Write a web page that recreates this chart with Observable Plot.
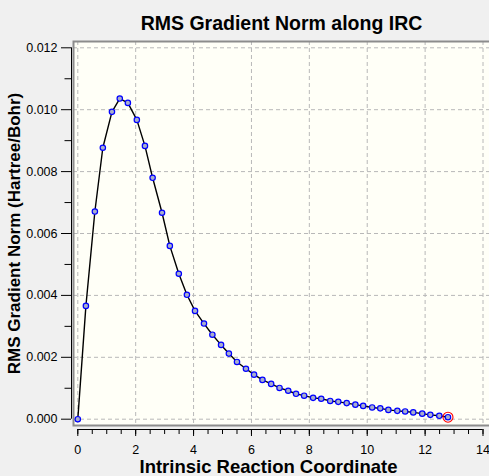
<!DOCTYPE html>
<html>
<head>
<meta charset="utf-8">
<script src="https://cdn.jsdelivr.net/npm/d3@7"></script>
<script src="https://cdn.jsdelivr.net/npm/@observablehq/plot@0.6"></script>
<style>
  html, body { margin: 0; padding: 0; background: #f0f0f0; overflow: hidden; }
  #chart svg { display: block; background: #f0f0f0; }
</style>
</head>
<body>
<div id="chart"></div>
<script>
const irc = [0, 0.28, 0.59, 0.865, 1.18, 1.45, 1.73, 2.04, 2.32, 2.585,
  2.91, 3.18, 3.49, 3.77, 4.05, 4.36, 4.65, 4.95, 5.22, 5.50,
  5.81, 6.09, 6.38, 6.68, 6.97, 7.27, 7.54, 7.82, 8.13, 8.41,
  8.72, 9.00, 9.29, 9.59, 9.86, 10.17, 10.45, 10.73, 11.04, 11.31,
  11.59, 11.90, 12.18, 12.49, 12.79];
const gradNorm = [0, 0.00366, 0.00671, 0.00877, 0.00993, 0.01036, 0.01022, 0.00967, 0.00883, 0.00780,
  0.00667, 0.00560, 0.00470, 0.00402, 0.00350, 0.00309, 0.00273, 0.00240, 0.00212, 0.00185,
  0.00163, 0.00144, 0.00127, 0.00114, 0.00101, 0.00092, 0.00082, 0.00076, 0.00069, 0.00066,
  0.00059, 0.00056, 0.00052, 0.00047, 0.00043, 0.00038, 0.00035, 0.00030, 0.00027, 0.00025,
  0.00022, 0.00018, 0.00014, 0.00011, 0.000065];
const xTicks = [0, 2, 4, 6, 8, 10, 12, 14];
const xMinorTicks = d3.range(0, 14.01, 0.5);
const yTicks = [0, 0.002, 0.004, 0.006, 0.008, 0.010, 0.012];
const yMinorTicks = [0.001, 0.003, 0.005, 0.007, 0.009, 0.011];
const xDomain = [0, 14];
const yDomain = [0, 0.012];
const title = "RMS Gradient Norm along IRC";
const xLabel = "Intrinsic Reaction Coordinate";
const yLabel = "RMS Gradient Norm (Hartree/Bohr)";

const data = irc.map((x, i) => ({x, y: gradNorm[i]}));
const last = [data[data.length - 1]];
const font = "'Liberation Sans', Arial, sans-serif";

const chart = Plot.plot({
  width: 489,
  height: 476,
  marginLeft: 73,
  marginTop: 41,
  marginBottom: 51,
  marginRight: 0,
  style: {fontFamily: font, fontSize: "12px", color: "#000", background: "#f0f0f0"},
  x: {domain: xDomain, range: [77.3, 482.5]},
  y: {domain: yDomain, range: [418.7, 47.3]},
  marks: [
    Plot.frame({fill: "#fffff7", stroke: null, insetRight: -8}),
    Plot.gridX(xTicks, {stroke: "#b8b8b8", strokeOpacity: 1, strokeDasharray: "4,3"}),
    Plot.gridY(yTicks, {stroke: "#b8b8b8", strokeOpacity: 1, strokeDasharray: "4,3", insetRight: -8}),
    Plot.frame({stroke: "#8c8c8c", strokeWidth: 2, insetRight: -8}),
    // axes
    Plot.ruleX([xDomain[0]], {y1: yDomain[0], y2: yDomain[1], dx: -6.3, stroke: "#000"}),
    Plot.ruleY([yDomain[0]], {x1: xDomain[0], x2: xDomain[1], dy: 10.3, stroke: "#000"}),
    Plot.axisY(yTicks, {anchor: "left", tickSize: 10, tickPadding: 4, dx: -2, tickFormat: d3.format(".3f"), label: null, fontSize: 12.5}),
    Plot.axisY(yMinorTicks, {anchor: "left", tickSize: 6.5, dx: -2, text: null, label: null}),
    Plot.axisX(xTicks, {anchor: "bottom", tickSize: 7, tickPadding: 9, dy: 4, tickFormat: d3.format("d"), label: null, fontSize: 12.5}),
    Plot.axisX(xMinorTicks, {anchor: "bottom", tickSize: 5, dy: 4, text: null, label: null}),
    // data
    Plot.line(data, {x: "x", y: "y", stroke: "#000", strokeWidth: 1.4}),
    Plot.dot(data, {x: "x", y: "y", r: 2.7, fill: "#a8aecb", stroke: "#0000ff", strokeWidth: 1.2}),
    Plot.dot(last, {x: "x", y: "y", r: 5, fill: "none", stroke: "#ff0000", strokeWidth: 1.1}),
    // texts
    Plot.text([title], {frameAnchor: "top", textAnchor: "middle", dx: 0, dy: -18, fontSize: 19.5, fontWeight: "bold", fill: "#000", lineAnchor: "middle"}),
    Plot.text([xLabel], {frameAnchor: "bottom", textAnchor: "middle", dx: -13, dy: 42, fontSize: 18.5, fontWeight: "bold", fill: "#000", lineAnchor: "middle"}),
    Plot.text([yLabel], {frameAnchor: "left", textAnchor: "middle", rotate: -90, dx: -59, dy: 0, fontSize: 17, fontWeight: "bold", fill: "#000", lineAnchor: "middle"})
  ]
});
document.getElementById("chart").appendChild(chart);
</script>
</body>
</html>
